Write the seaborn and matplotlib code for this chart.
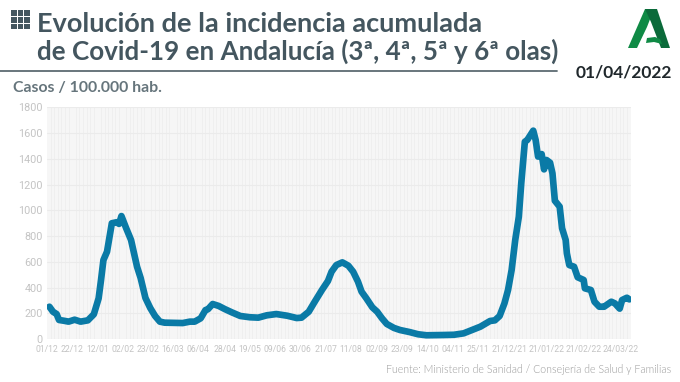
import seaborn as sns
import pandas as pd
import matplotlib.pyplot as plt
from matplotlib.patches import Polygon, Rectangle

# dias desde el 01/12/2020
dias = [2, 5, 8, 10, 14, 18, 23, 28, 34, 39, 43, 45, 47, 50, 54, 58, 60, 62, 66, 70, 75, 78, 82, 86, 90, 94, 98, 113,
        119, 123, 128, 132, 134, 138, 143, 148, 154, 161, 169, 176, 183, 191, 200, 208, 212, 218, 223, 229, 234, 237,
        241, 246, 251, 255, 259, 262, 266, 271, 275, 279, 283, 289, 294, 302, 309, 316, 330, 339, 347, 354, 361, 369,
        373, 377, 381, 384, 387, 389, 390, 393, 395, 398, 400, 405, 407, 409, 412, 414, 416, 419, 421, 423, 427, 429,
        432, 433, 435, 439, 442, 447, 448, 453, 456, 460, 464, 466, 470, 473, 477, 479, 483, 485]
incidencia = [251, 212, 194, 148, 142, 135, 150, 135, 145, 192, 316, 459, 614, 679, 900, 908, 895, 956, 860, 770, 562,
              474, 319, 241, 179, 135, 127, 124,
              135, 135, 161, 225, 231, 272, 257, 233, 207, 179, 169, 166, 184, 194, 181, 163, 166, 212, 290, 381, 451,
              523, 575, 596, 570, 523, 446, 368, 316, 246, 212, 161, 117, 86, 70, 54, 37, 29, 31, 33, 44, 70, 96, 140,
              145, 179, 277, 381, 537, 692, 770, 951, 1210, 1534, 1547, 1620, 1547, 1418, 1438, 1319, 1392, 1371, 1288,
              1075, 1029, 861, 770, 666, 575, 562, 480, 459, 394, 381, 290, 251, 251, 264, 290, 277, 236, 303, 321, 308]
tick_dias = [0, 21, 42, 63, 84, 105, 126, 148, 169, 190, 211, 232, 253, 275, 296, 317, 338, 359, 385, 416, 447, 478]
tick_labels = ["01/12", "22/12", "12/01", "02/02", "23/02", "16/03", "06/04", "28/04", "19/05", "09/06", "30/06",
               "21/07", "11/08", "02/09", "23/09", "14/10", "04/11", "25/11", "21/12/21", "21/01/22", "21/02/22",
               "24/03/22"]
y_ticks = [0, 200, 400, 600, 800, 1000, 1200, 1400, 1600, 1800]

W, H = 680, 382
azul = "#0a7aa6"
gris_titulo = "#44565f"

sns.set_theme(style="white")
plt.rcParams['font.family'] = ['Lato', 'DejaVu Sans']

fig = plt.figure(figsize=(W / 100, H / 100), dpi=100, facecolor="white")
ax = fig.add_axes([47 / W, 1 - 339 / H, (630.5 - 47) / W, (339 - 107.5) / H])
ax.set_facecolor("#f6f6f6")

df = pd.DataFrame({"dia": dias, "incidencia": incidencia})
sns.lineplot(data=df, x="dia", y="incidencia", color=azul, lw=4.8, ax=ax, zorder=3, solid_joinstyle="round")

ax.set_xlim(0, 486)
ax.set_ylim(0, 1800)
ax.set_xlabel("")
ax.set_ylabel("")
ax.set_xticks(tick_dias)
ax.set_xticklabels(tick_labels, fontsize=6.2, color="#c4c4c4", family="Roboto")
ax.set_yticks(y_ticks)
ax.set_yticklabels(y_ticks, fontsize=7.8, color="#c4c4c4", family="Roboto")
ax.tick_params(axis="x", length=0, pad=4.5)
ax.tick_params(axis="y", length=0, pad=3)
ax.set_xticks(range(0, 486, 3), minor=True)
ax.tick_params(which="minor", length=0)
ax.grid(which="minor", axis="x", color="#ededed", lw=0.5)
ax.grid(which="major", axis="y", color="#ebebeb", lw=0.8)
ax.grid(which="major", axis="x", visible=False)
ax.set_axisbelow(True)
sns.despine(ax=ax, left=True, bottom=True)


def px(x, y):
    return x / W, 1 - y / H


# cabecera
fig.text(*px(37, 32), "Evolución de la incidencia acumulada", fontsize=19.5, weight="bold", color=gris_titulo)
fig.text(*px(37, 60), "de Covid-19 en Andalucía (3ª, 4ª, 5ª y 6ª olas)", fontsize=18.7, weight="bold", color=gris_titulo)
fig.add_artist(plt.Line2D([0, 557 / W], [1 - 71 / H] * 2, color="#5d6b72", lw=1.3))
fig.text(*px(13, 92), "Casos / 100.000 hab.", fontsize=11.4, weight="bold", color="#66757c")
fig.text(*px(624, 77), "01/04/2022", fontsize=12.5, weight="bold", color="#20282c", ha="center")
fig.text(*px(671, 373), "Fuente: Ministerio de Sanidad / Consejería de Salud y Familias", fontsize=7.7,
         color="#9a9a9a", ha="right", weight=300)

# icono de cuadricula
for fila in range(3):
    for col in range(3):
        fig.add_artist(Rectangle(px(11 + col * 6.6, 16 + fila * 6.6), 5.5 / W, 5.5 / H, color="#44565f", lw=0,
                                 transform=fig.transFigure))

# logo Junta de Andalucia
verde = "#0f8a45"
oscuro = "#0b6a3a"
logo = [([(645, 9), (654, 9), (647, 27), (637, 48), (628, 48)], verde),
        ([(645, 9), (657, 9), (670, 48), (661, 48), (651, 22)], oscuro),
        ([(647, 38), (655, 37), (660, 39), (662, 44), (654, 42), (646, 43)], verde)]
for puntos, color in logo:
    fig.add_artist(Polygon([px(*p) for p in puntos], color=color, lw=0, transform=fig.transFigure))

fig.savefig("out.png", dpi=100)
